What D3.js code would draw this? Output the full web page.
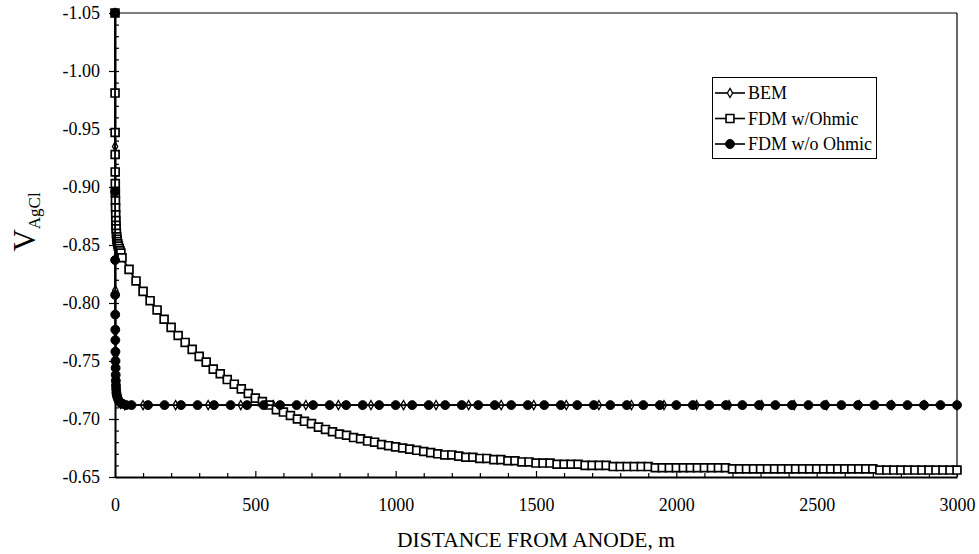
<!DOCTYPE html>
<html>
<head>
<meta charset="utf-8">
<script src="https://cdn.jsdelivr.net/npm/d3@7"></script>
<style>
  html, body { margin: 0; padding: 0; background: #fff; }
  svg { display: block; }
  text { font-family: "Liberation Serif", "Times New Roman", serif; fill: #000; }
</style>
</head>
<body>
<svg id="chart" width="979" height="554"></svg>
<script>
// ---------------- DATA ----------------
const seriesNames = ["BEM", "FDM w/Ohmic", "FDM w/o Ohmic"];

const xTickValues = [0, 500, 1000, 1500, 2000, 2500, 3000];
const xTickLabels = ["0", "500", "1000", "1500", "2000", "2500", "3000"];
const yTickValues = [-1.05, -1.00, -0.95, -0.90, -0.85, -0.80, -0.75, -0.70, -0.65];
const yTickLabels = ["-1.05", "-1.00", "-0.95", "-0.90", "-0.85", "-0.80", "-0.75", "-0.70", "-0.65"];

// BEM (open diamonds)
const bemX = [0, 0.3, 0.6, 1, 1.5, 2, 3, 4, 6, 8, 12, 20, 35,
  100, 216, 332, 448, 564, 680, 796, 912, 1028, 1144, 1260, 1376, 1492,
  1608, 1724, 1840, 1956, 2072, 2188, 2304, 2420, 2536, 2652, 2768, 2884, 3000];
const bemV = [-1.05, -0.935, -0.870, -0.811, -0.775, -0.755, -0.738, -0.730, -0.722, -0.718, -0.715, -0.713, -0.712,
  -0.712, -0.712, -0.712, -0.712, -0.712, -0.712, -0.712, -0.712, -0.712, -0.712, -0.712, -0.712, -0.712,
  -0.712, -0.712, -0.712, -0.712, -0.712, -0.712, -0.712, -0.712, -0.712, -0.712, -0.712, -0.712, -0.712];

// FDM with ohmic drop (open squares)
const ohmX = [0, 0.2, 0.4, 0.6, 0.8, 1, 1.3, 1.6, 2, 2.5, 3, 3.5, 4, 5, 6, 7, 8, 10, 12, 15, 18, 21,
  25, 50, 75, 100, 125, 150, 175, 200, 225, 250,
  275, 300, 325, 350, 375, 400, 425, 450, 475, 500,
  525, 550, 575, 600, 625, 650, 675, 700, 725, 750,
  775, 800, 825, 850, 875, 900, 925, 950, 975, 1000,
  1025, 1050, 1075, 1100, 1125, 1150, 1175, 1200, 1225, 1250,
  1275, 1300, 1325, 1350, 1375, 1400, 1425, 1450, 1475, 1500,
  1525, 1550, 1575, 1600, 1625, 1650, 1675, 1700, 1725, 1750,
  1775, 1800, 1825, 1850, 1875, 1900, 1925, 1950, 1975, 2000,
  2025, 2050, 2075, 2100, 2125, 2150, 2175, 2200, 2225, 2250,
  2275, 2300, 2325, 2350, 2375, 2400, 2425, 2450, 2475, 2500,
  2525, 2550, 2575, 2600, 2625, 2650, 2675, 2700, 2725, 2750,
  2775, 2800, 2825, 2850, 2875, 2900, 2925, 2950, 2975, 3000];
const ohmV = [-1.05, -0.981, -0.947, -0.928, -0.913, -0.903, -0.895, -0.888, -0.882, -0.876, -0.871, -0.867, -0.864, -0.860, -0.857, -0.855, -0.853, -0.851, -0.849, -0.847, -0.845, -0.843,
  -0.839, -0.829, -0.819, -0.810, -0.802, -0.794, -0.786, -0.779, -0.772, -0.766,
  -0.760, -0.754, -0.749, -0.743, -0.739, -0.734, -0.730, -0.726, -0.722, -0.718,
  -0.715, -0.712, -0.708, -0.706, -0.703, -0.700, -0.698, -0.696, -0.693, -0.691,
  -0.689, -0.687, -0.686, -0.684, -0.683, -0.681, -0.680, -0.678, -0.677, -0.676,
  -0.675, -0.674, -0.673, -0.672, -0.671, -0.670, -0.669, -0.669, -0.668, -0.667,
  -0.667, -0.666, -0.666, -0.665, -0.665, -0.664, -0.664, -0.663, -0.663, -0.662,
  -0.662, -0.662, -0.661, -0.661, -0.661, -0.661, -0.660, -0.660, -0.660, -0.660,
  -0.659, -0.659, -0.659, -0.659, -0.659, -0.659, -0.658, -0.658, -0.658, -0.658,
  -0.658, -0.658, -0.658, -0.658, -0.658, -0.658, -0.658, -0.657, -0.657, -0.657,
  -0.657, -0.657, -0.657, -0.657, -0.657, -0.657, -0.657, -0.657, -0.657, -0.657,
  -0.657, -0.657, -0.657, -0.657, -0.657, -0.657, -0.657, -0.657, -0.656, -0.656,
  -0.656, -0.656, -0.656, -0.656, -0.656, -0.656, -0.656, -0.656, -0.656, -0.656];

// FDM without ohmic drop (filled circles)
const noOhmX = [0, 0.2, 0.4, 0.6, 0.8, 1, 1.2, 1.5, 1.8, 2.1, 2.5, 3, 3.5, 4, 5, 6, 8, 11, 15, 20, 28, 40,
  58.8, 117.6, 176.5, 235.3, 294.1, 352.9, 411.8, 470.6, 529.4, 588.2,
  647.1, 705.9, 764.7, 823.5, 882.4, 941.2, 1000, 1058.8, 1117.6, 1176.5,
  1235.3, 1294.1, 1352.9, 1411.8, 1470.6, 1529.4, 1588.2, 1647.1, 1705.9, 1764.7,
  1823.5, 1882.4, 1941.2, 2000, 2058.8, 2117.6, 2176.5, 2235.3, 2294.1, 2352.9,
  2411.8, 2470.6, 2529.4, 2588.2, 2647.1, 2705.9, 2764.7, 2823.5, 2882.4, 2941.2, 3000];
const noOhmV = [-1.05, -0.896, -0.837, -0.807, -0.790, -0.777, -0.768, -0.758, -0.750, -0.744, -0.738, -0.733, -0.729, -0.726, -0.723, -0.721, -0.719, -0.717, -0.715, -0.714, -0.713, -0.712,
  -0.712, -0.712, -0.712, -0.712, -0.712, -0.712, -0.712, -0.712, -0.712, -0.712,
  -0.712, -0.712, -0.712, -0.712, -0.712, -0.712, -0.712, -0.712, -0.712, -0.712,
  -0.712, -0.712, -0.712, -0.712, -0.712, -0.712, -0.712, -0.712, -0.712, -0.712,
  -0.712, -0.712, -0.712, -0.712, -0.712, -0.712, -0.712, -0.712, -0.712, -0.712,
  -0.712, -0.712, -0.712, -0.712, -0.712, -0.712, -0.712, -0.712, -0.712, -0.712, -0.712];

// ---------------- CHART ----------------
const svg = d3.select("#chart");
const plot = { left: 115, right: 957, top: 13, bottom: 477 };

const x = d3.scaleLinear().domain([0, 3000]).range([plot.left, plot.right]);
const y = d3.scaleLinear().domain([-1.05, -0.65]).range([plot.top, plot.bottom]);

// plot border (top & right)
svg.append("line").attr("x1", plot.left).attr("x2", plot.right).attr("y1", plot.top).attr("y2", plot.top)
  .attr("stroke", "#000").attr("stroke-width", 1.2);
svg.append("line").attr("x1", plot.right).attr("x2", plot.right).attr("y1", plot.top).attr("y2", plot.bottom)
  .attr("stroke", "#000").attr("stroke-width", 1.2);

// minor ticks
const xMinor = d3.range(0, 3001, 100).filter(v => v % 500 !== 0);
const yMinor = d3.range(0, 41).map(i => -1.05 + i * 0.01).filter((v, i) => i % 5 !== 0);

const gxMinor = svg.append("g").attr("transform", `translate(0,${plot.bottom})`)
  .call(d3.axisBottom(x).tickValues(xMinor).tickSize(-4).tickFormat(""));
gxMinor.select(".domain").remove();
const gyMinor = svg.append("g").attr("transform", `translate(${plot.left},0)`)
  .call(d3.axisLeft(y).tickValues(yMinor).tickSize(-4).tickFormat(""));
gyMinor.select(".domain").remove();

// major axes
const gx = svg.append("g").attr("transform", `translate(0,${plot.bottom})`)
  .call(d3.axisBottom(x).tickValues(xTickValues).tickSizeInner(-6).tickSizeOuter(0).tickPadding(34)
    .tickFormat((d, i) => xTickLabels[i]));
const gy = svg.append("g").attr("transform", `translate(${plot.left},0)`)
  .call(d3.axisLeft(y).tickValues(yTickValues).tickSizeInner(6).tickSizeOuter(0).tickPadding(9)
    .tickFormat((d, i) => yTickLabels[i]));
gy.selectAll(".tick line").attr("x2", -6).attr("x1", 4);

[gx, gy, gxMinor, gyMinor].forEach(g => {
  g.selectAll(".domain").attr("stroke", "#000").attr("stroke-width", 2);
  g.selectAll(".tick line").attr("stroke", "#000").attr("stroke-width", 1.2);
  g.selectAll("text").attr("font-family", "Liberation Serif, Times New Roman, serif")
    .attr("font-size", 18).attr("fill", "#000");
});
gx.selectAll(".tick text").attr("dy", "0");

// axis titles
svg.append("text").attr("x", (plot.left + plot.right) / 2).attr("y", 547)
  .attr("text-anchor", "middle").attr("font-size", 21.5).text("DISTANCE FROM ANODE, m");

const yl = svg.append("text").attr("transform", "translate(35,222) rotate(-90)")
  .attr("text-anchor", "middle");
yl.append("tspan").attr("font-size", 31).text("V");
yl.append("tspan").attr("font-size", 17).attr("dy", 5).text("AgCl");

// series
const line = d3.line().x(d => x(d[0])).y(d => y(d[1]));
const bemData = bemX.map((v, i) => [v, bemV[i]]);
const ohmData = ohmX.map((v, i) => [v, ohmV[i]]);
const noOhmData = noOhmX.map((v, i) => [v, noOhmV[i]]);

const circleSym = d3.symbol().type(d3.symbolCircle).size(62);
const squareSym = d3.symbol().type(d3.symbolSquare).size(62);
const diamondSym = d3.symbol().type(d3.symbolDiamond).size(24);

function drawSeries(data, sym, fill, sw) {
  const g = svg.append("g");
  g.append("path").datum(data).attr("d", line).attr("fill", "none")
    .attr("stroke", "#000").attr("stroke-width", 1.8);
  g.selectAll("path.m").data(data).enter().append("path").attr("class", "m")
    .attr("transform", d => `translate(${x(d[0])},${y(d[1])})`)
    .attr("d", sym).attr("fill", fill).attr("stroke", "#000").attr("stroke-width", sw);
}
drawSeries(bemData, diamondSym, "#fff", 1.3);
drawSeries(ohmData, squareSym, "#fff", 1.7);
drawSeries(noOhmData, circleSym, "#000", 1);

// legend
const lg = svg.append("g");
lg.append("rect").attr("x", 712.5).attr("y", 77.5).attr("width", 164).attr("height", 81)
  .attr("fill", "#fff").attr("stroke", "#000").attr("stroke-width", 1);
const legendSyms = [[diamondSym, "#fff", 1.3], [squareSym, "#fff", 1.6], [circleSym, "#000", 1]];
seriesNames.forEach((name, i) => {
  const cy = 93 + i * 25.5;
  lg.append("line").attr("x1", 715).attr("x2", 745).attr("y1", cy).attr("y2", cy)
    .attr("stroke", "#000").attr("stroke-width", 1.6);
  lg.append("path").attr("transform", `translate(730,${cy})`).attr("d", legendSyms[i][0])
    .attr("fill", legendSyms[i][1]).attr("stroke", "#000").attr("stroke-width", legendSyms[i][2]);
  lg.append("text").attr("x", 748).attr("y", cy + 6).attr("font-size", 18).text(name);
});
</script>
</body>
</html>
